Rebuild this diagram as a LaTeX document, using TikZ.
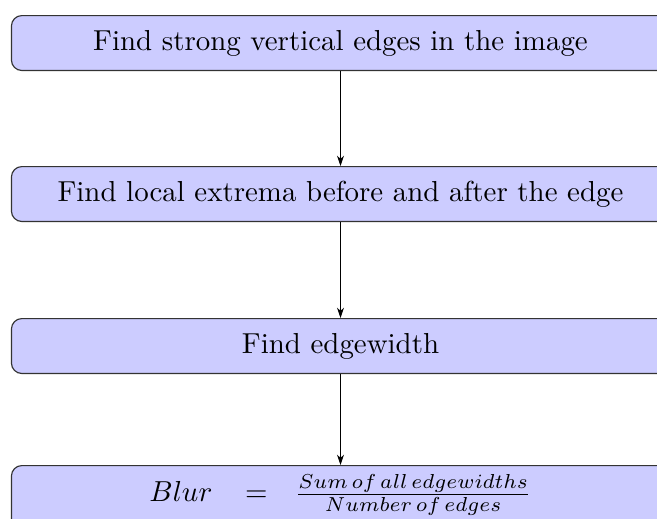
\documentclass[tikz,border=0pt]{standalone}
\usetikzlibrary{arrows.meta}
\newcommand{\wsp}{\hspace{1.3pt}}
\begin{document}
\begin{tikzpicture}[x=0.346pt,y=-0.346pt,
  stepbox/.style={draw=black!80,fill=blue!20,rounded corners=3.6pt,
    minimum width=227.7pt,minimum height=19pt,inner sep=0pt,anchor=north},
  flow/.style={-{Stealth[length=3.6pt,width=2.4pt]},line width=0.35pt}]
\useasboundingbox (0,0) rectangle (657,519);
\clip (0,0) rectangle (657,519);
\node[stepbox] (edges) at (340.5,15) {Find strong vertical edges in the image};
\node[stepbox] (extrema) at (340.5,166) {Find local extrema before and after the edge};
\node[stepbox] (width) at (340.5,318) {Find edgewidth};
\node[stepbox,minimum height=0pt,text height=12.4pt,text depth=10pt] (blur) at (340.5,465)
  {$Blur\hspace{8.5pt}=\hspace{6.7pt}\frac{Sum\wsp of\wsp all\wsp edgewidths}{Number\wsp of\wsp edges}$};
\draw[flow] (edges) -- (extrema);
\draw[flow] (extrema) -- (width);
\draw[flow] (width) -- (blur);
\end{tikzpicture}
\end{document}
